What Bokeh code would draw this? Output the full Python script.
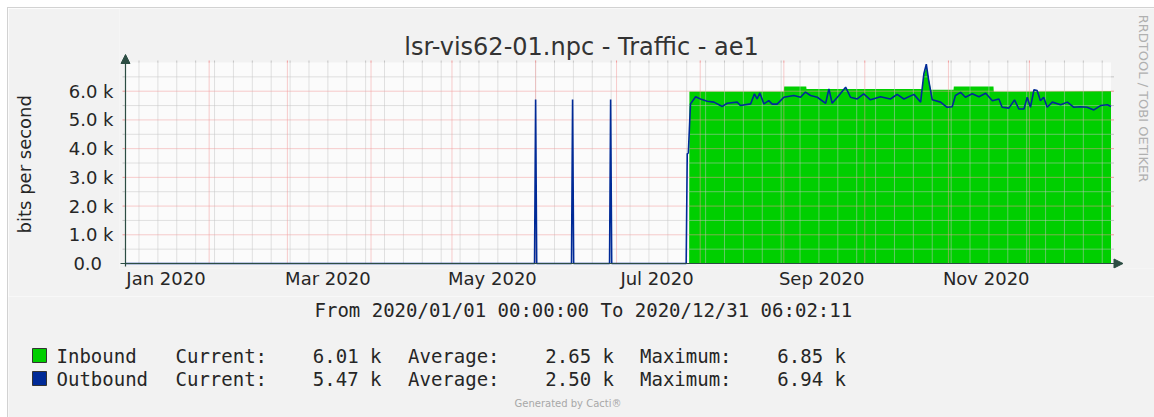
import math
from datetime import datetime, timedelta
from bokeh.plotting import figure
from bokeh.layouts import column
from bokeh.models import (Range1d, FixedTicker, DatetimeTickFormatter, Label,
                          Arrow, NormalHead)
from bokeh.embed import file_html
from bokeh.resources import INLINE

# ---------------- data ----------------
title_text = "lsr-vis62-01.npc - Traffic - ae1"
y_label = "bits per second"
period_text = "From 2020/01/01 00:00:00 To 2020/12/31 06:02:11"
watermark = "RRDTOOL / TOBI OETIKER"
footer = "Generated by Cacti\u00ae"

series_names = ["Inbound", "Outbound"]
series_colors = ["#00CF00", "#002A97"]
current_vals = ["6.01 k", "5.47 k"]
average_vals = ["2.65 k", "2.50 k"]
maximum_vals = ["6.85 k", "6.94 k"]

t_start = datetime(2020, 1, 1, 0, 0, 0)
t_end = datetime(2020, 12, 31, 6, 2, 11)

# days since 2020-01-01, bits per second
in_day = [0.0, 208.9, 209.0, 244.0, 244.1, 252.3, 252.4, 295.2, 296.0, 296.8,
          297.6, 298.5, 306.9, 307.0, 321.7, 321.8, 365.25]
in_bps = [0, 0, 5990, 5990, 6160, 6160, 6080, 6080, 6600, 6850,
          6500, 6050, 6050, 6160, 6160, 5990, 6010]

out_day = [0.0, 151.6, 152.0, 152.4, 165.3, 165.7, 166.1, 179.4, 179.8, 180.2,
           207.8, 208.2, 208.6, 209.4, 211.3, 213.1, 215.6, 218.1, 221.2, 223.0,
           226.7, 227.9, 231.7, 233.1, 234.1, 235.1, 236.6, 238.4, 239.7, 241.5,
           244.0, 247.7, 250.2, 252.0, 253.9, 256.4, 259.5, 260.7, 261.9, 264.4,
           266.9, 268.7, 271.2, 273.6, 276.1, 279.8, 283.5, 286.0, 288.5, 292.2,
           294.7, 295.9, 296.8, 297.7, 299.0, 302.1, 304.5, 306.4, 307.6, 309.5,
           311.3, 313.8, 316.3, 318.8, 321.3, 323.7, 324.9, 327.4, 329.5, 331.1,
           333.0, 334.2, 335.4, 336.7, 337.9, 339.1, 340.3, 341.6, 343.5, 346.6,
           349.1, 351.5, 354.0, 356.4, 358.9, 361.4, 363.9, 365.25]
out_bps = [0, 0, 5710, 0, 0, 5710, 0, 0, 5710, 0,
           0, 3820, 3850, 5560, 5810, 5730, 5650, 5620, 5470, 5580,
           5620, 5500, 5560, 5910, 5730, 5940, 5560, 5670, 5550, 5550,
           5790, 5850, 5790, 5970, 5850, 5790, 5580, 6080, 5580, 5850,
           6140, 5790, 5730, 5910, 5700, 5810, 5730, 5890, 5730, 5890,
           5620, 6610, 6940, 6370, 5700, 5620, 5440, 5460, 5850, 5960,
           5790, 5910, 5810, 5930, 5670, 5730, 5440, 5410, 5700, 5380,
           5380, 5790, 5440, 6050, 6020, 5670, 5790, 5440, 5620, 5530,
           5620, 5440, 5460, 5440, 5350, 5500, 5530, 5470]

x_tick_dates = [datetime(2020, 1, 16), datetime(2020, 3, 16), datetime(2020, 5, 16),
                datetime(2020, 7, 16), datetime(2020, 9, 15), datetime(2020, 11, 15)]
x_tick_labels = ["Jan 2020", "Mar 2020", "May 2020", "Jul 2020", "Sep 2020", "Nov 2020"]
y_ticks = [0, 1000, 2000, 3000, 4000, 5000, 6000]
y_tick_labels = ["0.0\u00a0\u00a0", "1.0 k", "2.0 k", "3.0 k", "4.0 k", "5.0 k", "6.0 k"]
y_minor = [500, 1500, 2500, 3500, 4500, 5500, 6500]
y_top = 7000

# ---------------- helpers ----------------
EPOCH = datetime(1970, 1, 1)
def ms(dt):
    return (dt - EPOCH).total_seconds() * 1000.0
def day_ms(d):
    return ms(t_start + timedelta(days=d))

in_x = [day_ms(d) for d in in_day]
out_x = [day_ms(d) for d in out_day]

# page geometry (pixels)
PAGE_W, PAGE_H = 1154, 417
OX, OY = 8, 8                       # where the image starts on the page
AX_X, AX_Y = 125, 263               # rrdtool axes (x of t_start, y of 0)
AREA_R, AREA_T = 1110.5, 62         # rrdtool plot-area right / top
FL, FR, FT, FB = 119, PAGE_W, OY, 268   # frame of the main figure
SPLIT = 296                          # page y where the legend figure starts

x0, x1 = ms(t_start), ms(t_end)
def xpx(X):
    return x0 + (X - AX_X) / (AREA_R - AX_X) * (x1 - x0)
def ypx(Y):
    return (AX_Y - Y) / (AX_Y - AREA_T) * y_top
def sx(X):
    return X - FL
def sy(Y):
    return FB - Y

BG = "#f2f2f2"
AREA_BG = "#fbfbfb"
AXIS = "#2c4d43"
TXT = "#262626"
MINOR = "#c4c4c4"
MAJOR = "#f29a9a"

W1 = PAGE_W - OX
H1 = SPLIT - OY
p = figure(width=W1, height=H1, x_axis_type="datetime",
           x_range=Range1d(xpx(FL), xpx(FR)), y_range=Range1d(ypx(FB), ypx(FT)),
           output_backend="svg", toolbar_location=None,
           min_border_left=FL - OX, min_border_right=0,
           min_border_top=0, min_border_bottom=SPLIT - FB)
p.frame_align = False
p.background_fill_color = BG
p.border_fill_color = BG
p.outline_line_color = None
p.xgrid.visible = False
p.ygrid.visible = False

# plot area
p.quad(left=[x0], right=[x1], bottom=[0], top=[y_top], fill_color=AREA_BG, line_color=None)

# inbound area
p.varea(x=in_x, y1=[0] * len(in_x), y2=in_bps, fill_color=series_colors[0])

# grid
month_starts = [ms(datetime(2020, m, 1)) for m in range(2, 13)]
weeks = []
d = datetime(2020, 1, 6)
while d < t_end:
    weeks.append(ms(d))
    d += timedelta(days=7)
y_major = y_ticks[1:]
p.segment(x0=weeks, y0=[0] * len(weeks), x1=weeks, y1=[y_top] * len(weeks),
          line_color=MINOR, line_dash="1 1", line_width=1)
p.segment(x0=[x0] * len(y_minor), y0=y_minor, x1=[x1] * len(y_minor), y1=y_minor,
          line_color=MINOR, line_dash="1 1", line_width=1)
p.segment(x0=month_starts, y0=[0] * len(month_starts), x1=month_starts, y1=[y_top] * len(month_starts),
          line_color=MAJOR, line_dash="1 1", line_width=1)
p.segment(x0=[x0] * len(y_major), y0=y_major, x1=[x1] * len(y_major), y1=y_major,
          line_color=MAJOR, line_dash="1 1", line_width=1)
# short solid tick marks at the ends of the grid lines
for xa, xb in [(xpx(AX_X - 3), x0), (x1, xpx(AREA_R + 3))]:
    p.segment(x0=[xa] * len(y_minor), y0=y_minor, x1=[xb] * len(y_minor), y1=y_minor,
              line_color=MINOR, line_width=1)
    p.segment(x0=[xa] * len(y_major), y0=y_major, x1=[xb] * len(y_major), y1=y_major,
              line_color=MAJOR, line_width=1)
p.segment(x0=weeks, y0=[y_top] * len(weeks), x1=weeks, y1=[ypx(AREA_T - 2)] * len(weeks),
          line_color=MINOR, line_width=1)
p.segment(x0=month_starts, y0=[y_top] * len(month_starts), x1=month_starts,
          y1=[ypx(AREA_T - 2)] * len(month_starts), line_color=MAJOR, line_width=1)

# outbound line
p.line(out_x, out_bps, line_color=series_colors[1], line_width=1.6)

# axes (labels only; lines drawn as arrows)
p.xaxis.ticker = FixedTicker(ticks=[ms(t) for t in x_tick_dates], minor_ticks=[])
p.xaxis.formatter = DatetimeTickFormatter(months="%b %Y", days="%b %Y", years="%b %Y")
p.xaxis.major_label_overrides = {ms(t): lab for t, lab in zip(x_tick_dates, x_tick_labels)}
p.xaxis.major_tick_line_color = None
p.xaxis.major_tick_out = 0
p.xaxis.minor_tick_line_color = None
p.xaxis.axis_line_color = None
p.xaxis.major_label_standoff = -1
p.xaxis.major_label_text_font = "DejaVu Sans"
p.xaxis.major_label_text_font_size = "18px"
p.xaxis.major_label_text_color = TXT

p.yaxis.ticker = FixedTicker(ticks=y_ticks, minor_ticks=y_minor)
p.yaxis.major_label_overrides = {t: lab for t, lab in zip(y_ticks, y_tick_labels)}
p.yaxis.axis_line_color = None
p.yaxis.major_tick_line_color = None
p.yaxis.minor_tick_line_color = None
p.yaxis.major_tick_in = 0
p.yaxis.major_tick_out = 0
p.yaxis.minor_tick_in = 0
p.yaxis.minor_tick_out = 0
p.yaxis.major_label_standoff = 6
p.yaxis.major_label_text_font = "DejaVu Sans"
p.yaxis.major_label_text_font_size = "18px"
p.yaxis.major_label_text_color = TXT
# the label is centred on the frame; padding at its far end centres it on the plot area
p.yaxis.axis_label = y_label + "\u00a0" * 9
p.yaxis.axis_label_text_font = "DejaVu Sans"
p.yaxis.axis_label_text_font_size = "18px"
p.yaxis.axis_label_text_font_style = "normal"
p.yaxis.axis_label_text_color = TXT
p.yaxis.axis_label_standoff = 31

# axis lines with arrows
p.add_layout(Arrow(end=NormalHead(size=9, fill_color=AXIS, line_color=AXIS, line_width=1),
                   x_start=xpx(AX_X - 5), y_start=0, x_end=xpx(1122.5), y_end=0,
                   line_color=AXIS, line_width=1.2))
p.add_layout(Arrow(end=NormalHead(size=9, fill_color=AXIS, line_color=AXIS, line_width=1),
                   x_start=x0, y_start=ypx(AX_Y + 3), x_end=x0, y_end=ypx(54),
                   line_color=AXIS, line_width=1.2))

# title and watermark
p.add_layout(Label(x=sx(581), y=sy(46), x_units="screen", y_units="screen", text=title_text,
                   text_align="center", text_baseline="middle", text_font="DejaVu Sans",
                   text_font_size="24px", text_color="#333333"))
p.add_layout(Label(x=sx(1143), y=sy(98), x_units="screen", y_units="screen", text=watermark,
                   angle=-math.pi / 2, text_align="center", text_baseline="middle",
                   text_font="DejaVu Sans", text_font_size="13px", text_color="#b0b0b0"))

# ---------------- legend figure (page coordinates) ----------------
H2 = PAGE_H - SPLIT
q = figure(width=W1, height=H2, x_range=Range1d(OX, PAGE_W), y_range=Range1d(PAGE_H, SPLIT),
           x_axis_location=None, y_axis_location=None,
           output_backend="svg", toolbar_location=None,
           min_border_left=0, min_border_right=0, min_border_top=0, min_border_bottom=0)
q.frame_align = False
q.background_fill_color = BG
q.border_fill_color = BG
q.outline_line_color = None
q.xgrid.visible = False
q.ygrid.visible = False

def mono(x, y, text, align="left"):
    q.add_layout(Label(x=x, y=y, text=text, text_align=align, text_baseline="middle",
                       text_font="DejaVu Sans Mono", text_font_size="19px", text_color=TXT))

mono(314, 309, period_text)
row_y = [355, 378]
box_l = [32] * 2
box_r = [46] * 2
q.quad(left=box_l, right=box_r, top=[y - 7 for y in row_y], bottom=[y + 7 for y in row_y],
       fill_color=series_colors, line_color="#333333", line_width=1)
for i in range(2):
    Y = row_y[i]
    mono(56, Y, series_names[i])
    for lab_x, num_end, word, val in [(175, 381, "Current:", current_vals[i]),
                                      (407.5, 613.5, "Average:", average_vals[i]),
                                      (639.5, 845.5, "Maximum:", maximum_vals[i])]:
        mono(lab_x, Y, word)
        mono(num_end, Y, val, align="right")
q.add_layout(Label(x=567.5, y=403, text=footer, text_align="center", text_baseline="middle",
                   text_font="DejaVu Sans", text_font_size="10px", text_color="#a8a8a8"))

root = column(p, q, spacing=0)
root.margin = (OY - 1, 0, 0, OX - 1)
root.styles = {"border-top": "1px solid #d2d2d2", "border-left": "1px solid #d2d2d2"}

open("out.html", "w").write(file_html(root, INLINE))
